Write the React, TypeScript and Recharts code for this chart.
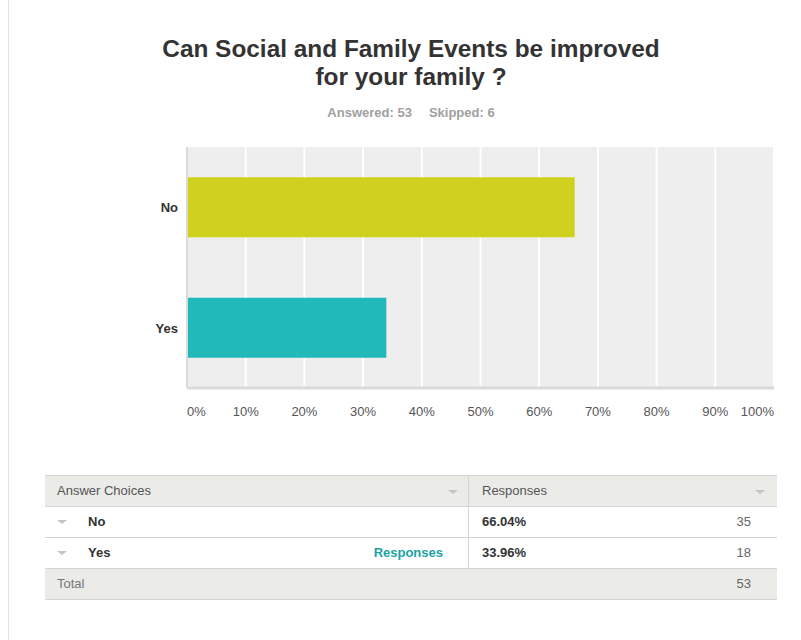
import React from 'react';
import { BarChart, Bar, XAxis, YAxis, CartesianGrid, Cell } from 'recharts';

const categories = ['No', 'Yes'];
const percents = [66.04, 33.96];
const counts = [35, 18];
const barColors = ['#d0d11f', '#22b9bb'];
const xTicks = [0, 10, 20, 30, 40, 50, 60, 70, 80, 90, 100];
const answered = 53;
const skipped = 6;

const data = categories.map((c, i) => ({ name: c, value: percents[i] }));

const FONT = 'Arial, "Liberation Sans", sans-serif';

const XTick = (props: any) => {
  const { x, y, payload, index } = props;
  const last = xTicks.length - 1;
  const anchor = index === 0 ? 'start' : index === last ? 'end' : 'middle';
  return (
    <text x={x} y={y} dy={20} textAnchor={anchor} fontSize={13} fill="#555" fontFamily={FONT}>
      {payload.value}%
    </text>
  );
};

const YTick = (props: any) => {
  const { x, y, payload } = props;
  return (
    <text x={x} y={y} dy={5} textAnchor="end" fontSize={13} fontWeight="bold" fill="#333" fontFamily={FONT}>
      {payload.value}
    </text>
  );
};

const Caret = ({ left, top }: { left: number; top: number }) => (
  <div
    style={{
      position: 'absolute',
      left,
      top,
      width: 0,
      height: 0,
      borderLeft: '5px solid transparent',
      borderRight: '5px solid transparent',
      borderTop: '4px solid #c4c4c4',
    }}
  />
);

const rowStyle = (top: number, bg: string): React.CSSProperties => ({
  position: 'absolute',
  left: 45,
  top,
  width: 732,
  height: 31,
  background: bg,
  borderBottom: '1px solid #d4d4d4',
  boxSizing: 'border-box',
});

const txt = 13;

export default function App() {
  const total = counts.reduce((a, b) => a + b, 0);
  return (
    <div style={{ position: 'absolute', left: 0, top: 0, width: 801, height: 640, background: '#fff', fontFamily: FONT, overflow: 'hidden' }}>
      <div style={{ position: 'absolute', left: 8, top: 0, width: 1, height: 640, background: '#e2e2e2' }} />
      <div
        style={{
          position: 'absolute',
          left: 0,
          top: 35,
          width: 822,
          textAlign: 'center',
          fontSize: 24.4,
          lineHeight: '28px',
          fontWeight: 'bold',
          color: '#333',
        }}
      >
        Can Social and Family Events be improved
        <br />
        for your family ?
      </div>
      <div
        style={{
          position: 'absolute',
          left: 0,
          top: 105,
          width: 822,
          textAlign: 'center',
          fontSize: 13,
          lineHeight: '15px',
          fontWeight: 'bold',
          color: '#a0a0a0',
        }}
      >
        Answered: {answered}
        <span style={{ display: 'inline-block', width: 17 }} />
        Skipped: {skipped}
      </div>

      <div style={{ position: 'absolute', left: 0, top: 0 }}>
        <BarChart
          width={801}
          height={430}
          layout="vertical"
          data={data}
          margin={{ top: 147, right: 27, left: 127, bottom: 12 }}
          barCategoryGap="25%"
        >
          <CartesianGrid horizontal={false} stroke="#ffffff" strokeWidth={2} fill="#eeeeee" />
          <XAxis
            type="number"
            domain={[0, 100]}
            ticks={xTicks}
            height={30}
            tickLine={false}
            axisLine={{ stroke: '#dadada', strokeWidth: 3 }}
            tick={<XTick />}
            interval={0}
          />
          <YAxis
            type="category"
            dataKey="name"
            width={60}
            tickLine={false}
            tickMargin={3}
            axisLine={{ stroke: '#dadada', strokeWidth: 2 }}
            tick={<YTick />}
          />
          <Bar dataKey="value" isAnimationActive={false}>
            {data.map((d, i) => (
              <Cell key={d.name} fill={barColors[i]} />
            ))}
          </Bar>
        </BarChart>
      </div>

      {/* table */}
      <div style={{ ...rowStyle(475, '#ebebe8'), borderTop: '1px solid #d4d4d4', height: 32 }}>
        <span style={{ position: 'absolute', left: 12, top: 7, fontSize: txt, color: '#555' }}>Answer Choices</span>
        <Caret left={403} top={14} />
        <span style={{ position: 'absolute', left: 437, top: 7, fontSize: txt, color: '#555' }}>Responses</span>
        <Caret left={710} top={14} />
        <div style={{ position: 'absolute', left: 423, top: 0, width: 1, height: 31, background: '#d4d4d4' }} />
      </div>
      {categories.map((c, i) => (
        <div key={c} style={rowStyle(507 + i * 31, '#ffffff')}>
          <Caret left={12} top={13} />
          <span style={{ position: 'absolute', left: 43, top: 7, fontSize: txt, fontWeight: 'bold', color: '#333' }}>{c}</span>
          {i === categories.length - 1 && (
            <span style={{ position: 'absolute', right: 334, top: 7, fontSize: txt, fontWeight: 'bold', color: '#1aa3a5' }}>Responses</span>
          )}
          <div style={{ position: 'absolute', left: 423, top: -1, width: 1, height: 31, background: '#d4d4d4' }} />
          <span style={{ position: 'absolute', left: 437, top: 7, fontSize: txt, fontWeight: 'bold', color: '#333' }}>
            {percents[i].toFixed(2)}%
          </span>
          <span style={{ position: 'absolute', right: 26, top: 7, fontSize: txt, color: '#666' }}>{counts[i]}</span>
        </div>
      ))}
      <div style={rowStyle(569, '#ebebe8')}>
        <span style={{ position: 'absolute', left: 12, top: 7, fontSize: txt, color: '#777' }}>Total</span>
        <span style={{ position: 'absolute', right: 26, top: 7, fontSize: txt, color: '#666' }}>{total}</span>
      </div>
    </div>
  );
}
